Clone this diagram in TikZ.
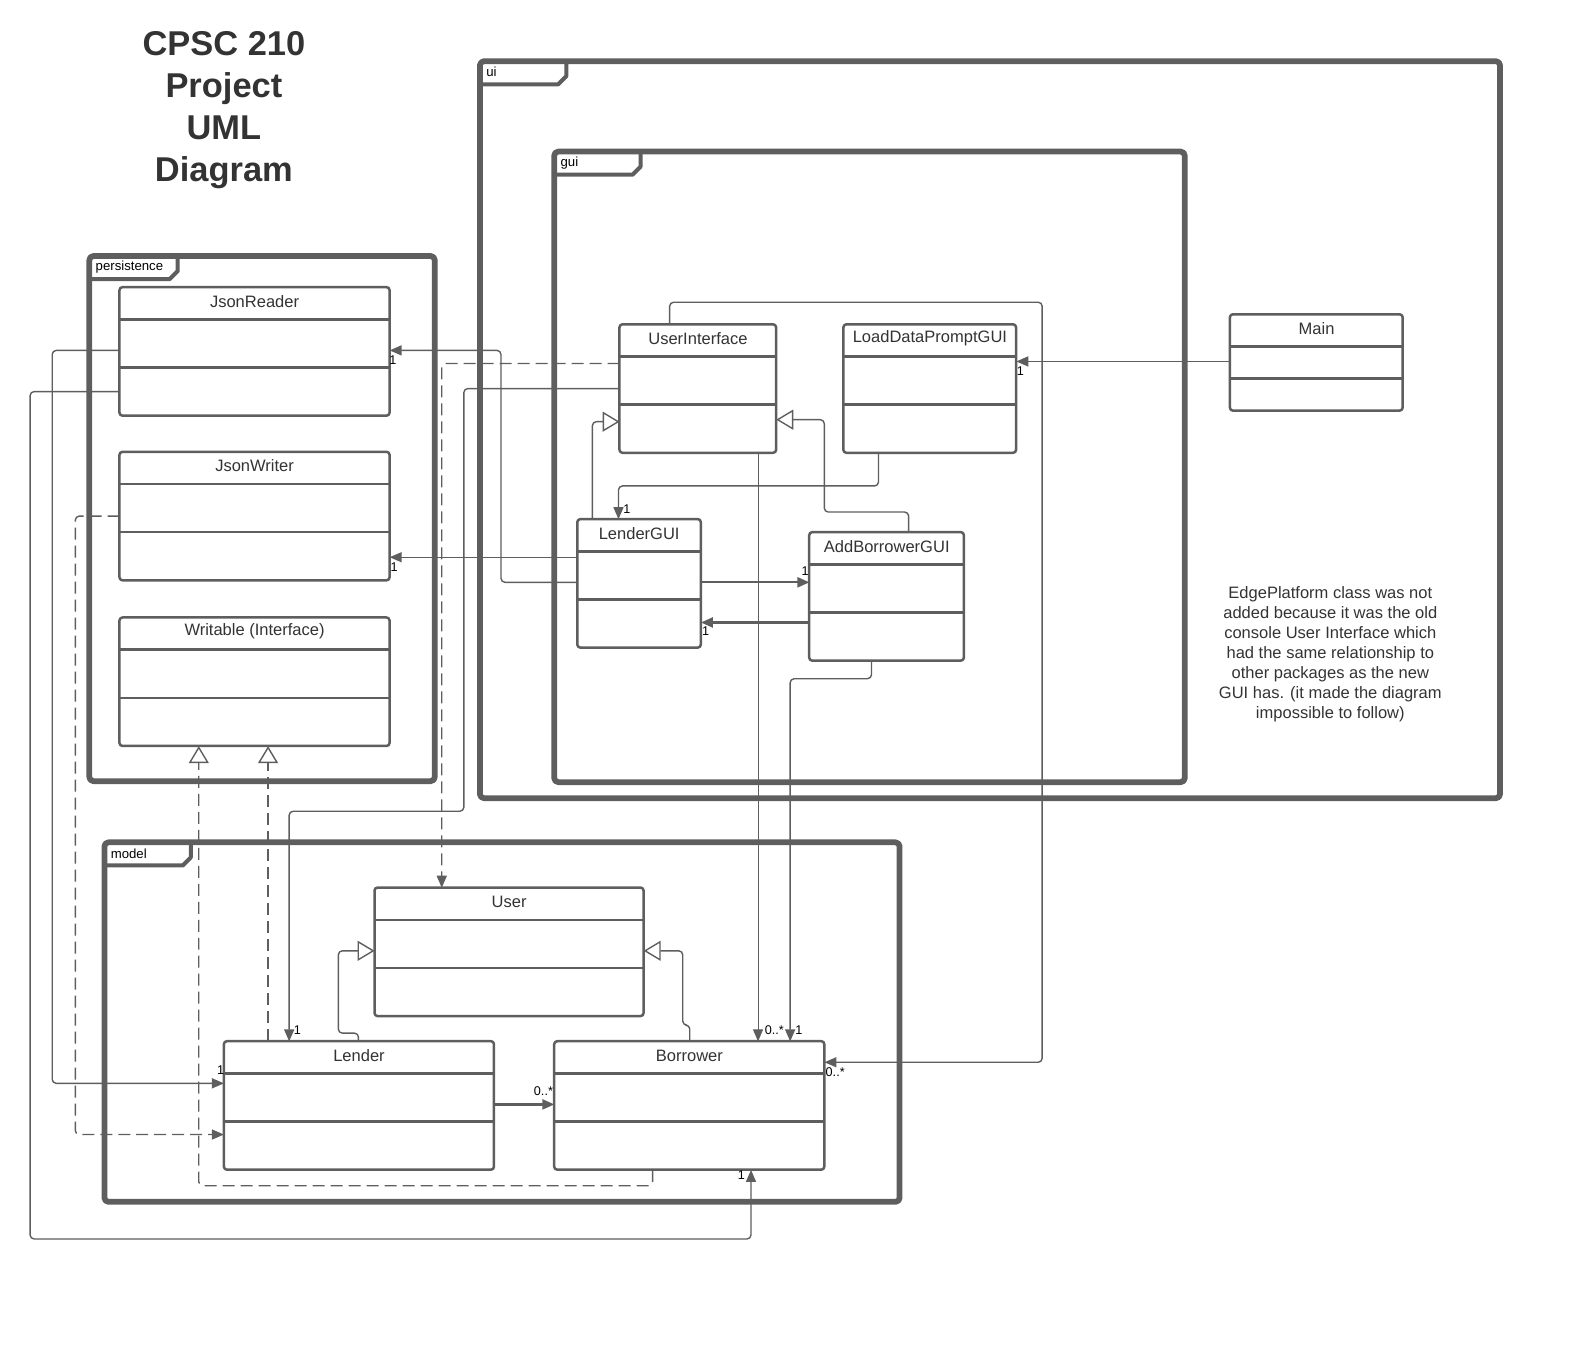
\documentclass[tikz,border=0pt]{standalone}
\usepackage{fontspec}
\setmainfont{Liberation Sans}
\usetikzlibrary{arrows.meta,calc}
\definecolor{umlgray}{HTML}{5E5E5E}
\definecolor{umltext}{HTML}{333333}
\begin{document}
\begin{tikzpicture}[x=.02cm,y=-.02cm,scale=1.004,line join=round,color=umlgray,
	pkg/.style={line width=.115cm,rounded corners=.08cm},
	tab/.style={line width=.08cm},
	cls/.style={draw,fill=white,line width=.05cm,rounded corners=.06cm,inner sep=0pt,outer sep=0pt,anchor=north west},
	cmp/.style={line width=.05cm},
	ctitle/.style={text=umltext,inner sep=0pt,font=\fontsize{9.4}{11}\selectfont},
	plabel/.style={text=black,anchor=west,inner sep=0pt,font=\fontsize{7.5}{9}\selectfont},
	asc/.style={line width=.028cm,rounded corners=.08cm,-{Triangle[length=.24cm,width=.2cm]}},
	dep/.style={asc,dash pattern=on .24cm off .12cm},
	real/.style={inh,dash pattern=on .24cm off .12cm},
	inh/.style={line width=.028cm,rounded corners=.08cm,-{Triangle[open,length=.34cm,width=.4cm,fill=white]}},
	thk/.style={line width=.045cm},
	mult/.style={text=black,inner sep=0pt,anchor=center,font=\fontsize{7.2}{8}\selectfont}]
				\useasboundingbox (0,0) rectangle (1567.7,1343.6);
				\node[text=umltext,align=center,font=\bfseries\fontsize{19.6}{23.9}\selectfont] (title) at (223,110) {CPSC 210\\Project\\UML\\Diagram};
				\foreach \p/\xa/\ya/\xb/\yb/\tx in {ui/478/61/1494/795/564,gui/552/151/1180/779/638,persistence/89/255/433/778/177,model/104/839/896/1197/190}{
					\draw[pkg] (\xa,\ya) rectangle (\xb,\yb);
					\draw[tab] (\xa,\ya+23) -- (\tx-8,\ya+23) -- (\tx,\ya+15) -- (\tx,\ya);
					\node[plabel] (pk-\p) at (\xa+6,\ya+11) {\p};
				}
				\foreach \n/\xa/\ya/\xb/\cp/\nm in {jr/119/286/388/48/JsonReader,jw/119/450/388/48/JsonWriter,wr/119/615/388/48/{Writable (Interface)},
					uif/617/323/773/48/UserInterface,ld/840/323/1012/48/LoadDataPromptGUI,mn/1225/313/1397/32/Main,
					lg/575/517/698/48/LenderGUI,ab/806/530/960/48/AddBorrowerGUI,us/373/884/641/48/User,le/223/1037/492/48/Lender,bo/552/1037/821/48/Borrower}{
					\pgfmathsetmacro{\cw}{(\xb-\xa)*.02*1.004}
					\pgfmathsetmacro{\ch}{(32+2*\cp)*.02*1.004}
					\node[cls,minimum width=\cw cm,minimum height=\ch cm] (\n) at (\xa,\ya) {};
					\draw[cmp] ($(\n.north west)+(0,32)$) -- ($(\n.north east)+(0,32)$) ($(\n.north west)+(0,32+\cp)$) -- ($(\n.north east)+(0,32+\cp)$);
					\node[ctitle] (\n-t) at ($(\n.north)+(0,14)$) {\nm};
				}
				\node[text=umltext,align=center,font=\fontsize{9.4}{11.4}\selectfont] (note) at (1325,652) {EdgePlatform class was not\\added because it was the old\\console User Interface which\\had the same relationship to\\other packages as the new\\GUI has. (it made the diagram\\impossible to follow)};
				\draw[asc] (jr.west|-0,349) -- (52,349) -- (52,1079) -- (le.west|-0,1079) node[mult,xshift=-1.9pt,yshift=7.6pt] (m1) {1};
				\draw[asc] (jr.west|-0,390) -- (30,390) -- (30,1234) -- (748,1234) -- (748,0|-bo.south) node[mult,xshift=-5.5pt,yshift=-3pt] (m2) {1};
				\draw[dep] (jw.west|-0,514) -- (75,514) -- (75,1130) -- (le.west|-0,1130);
				\draw[real] (267,0|-le.north) -- (267,0|-wr.south);
				\draw[real] (650,0|-bo.south) -- (650,1181) -- (198,1181) -- (198,0|-wr.south);
				\draw[dep] (uif.west|-0,362) -- (440,362) -- (440,0|-us.north);
				\draw[asc] (uif.west|-0,387) -- (462,387) -- (462,808) -- (288,808) -- (288,0|-le.north) node[mult,xshift=4.7pt,yshift=6.3pt] (m7) {1};
				\draw[asc] (lg.west|-0,580) -- (499,580) -- (499,349) -- (jr.east|-0,349) node[mult,xshift=1.9pt,yshift=-5.3pt] (m8) {1};
				\draw[asc] (lg.west|-0,555) -- (jw.east|-0,555) node[mult,xshift=2.6pt,yshift=-5.4pt] (m9) {1};
				\draw[asc,thk] (lg.east|-0,580) -- (ab.west|-0,580) node[mult,xshift=-2.4pt,yshift=6.6pt] (m10) {1};
				\draw[asc,thk] (ab.west|-0,620) -- (lg.east|-0,620) node[mult,xshift=2.6pt,yshift=-5pt] (m11) {1};
				\draw[inh] (590,0|-lg.north) -- (590,420) -- (uif.west|-0,420);
				\draw[inh] (905,0|-ab.north) -- (905,510) -- (821,510) -- (821,418) -- (uif.east|-0,418);
				\draw[asc] (875,0|-ld.south) -- (875,484) -- (616,484) -- (616,0|-lg.north) node[mult,xshift=4.8pt,yshift=5.9pt] (m14) {1};
				\draw[asc] (mn.west|-0,360) -- (ld.east|-0,360) node[mult,xshift=2.3pt,yshift=-5.5pt] (m15) {1};
				\draw[asc,line width=.02cm] (755,0|-uif.south) -- (755,0|-bo.north) node[mult,xshift=9.3pt,yshift=6.3pt] (m16) {0..*};
				\draw[asc] (868,0|-ab.south) -- (868,676) -- (787,676) -- (787,0|-bo.north) node[mult,xshift=5pt,yshift=6.3pt] (m17) {1};
				\draw[asc] (667,0|-uif.north) -- (667,301) -- (1038,301) -- (1038,1058) -- (bo.east|-0,1058) node[mult,xshift=6.1pt,yshift=-5.4pt] (m18) {0..*};
				\draw[asc,thk] (le.east|-0,1100) -- (bo.west|-0,1100) node[mult,xshift=-6.2pt,yshift=7.6pt] (m19) {0..*};
				\draw[inh] (357,0|-le.north) -- (357,1029) -- (337,1029) -- (337,947) -- (us.west|-0,947);
				\draw[inh] (687,0|-bo.north) -- (687,1021) -- (680,1021) -- (680,947) -- (us.east|-0,947);
\end{tikzpicture}
\end{document}
